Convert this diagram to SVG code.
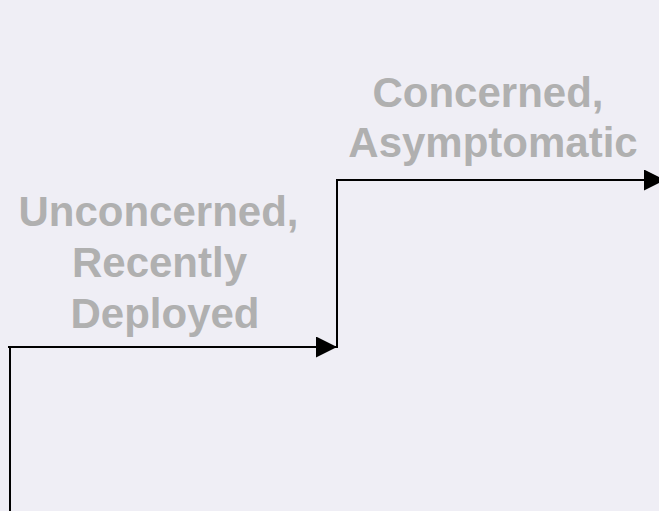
<svg xmlns="http://www.w3.org/2000/svg" width="659" height="511" viewBox="0 0 659 511">
  <style>
    .label { font-family: "Liberation Sans", Arial, sans-serif; font-weight: bold; font-size: 42px; fill: #b0b0b0; text-anchor: middle; }
    .step { fill: none; stroke: #000; stroke-width: 2; }
  </style>
  <defs>
    <marker id="arrow" markerUnits="userSpaceOnUse" markerWidth="21" markerHeight="21" refX="21" refY="10.5" orient="auto">
      <path d="M0,0 L21,10.5 L0,21 Z" fill="#000"/>
    </marker>
  </defs>
  <rect width="659" height="511" fill="#efeef5"/>

  <g id="connectors">
    <line class="step" x1="10" y1="511" x2="10" y2="346"/>
    <line class="step" x1="8" y1="347" x2="337" y2="347" marker-end="url(#arrow)"/>
    <line class="step" x1="337" y1="348" x2="337" y2="180"/>
    <line class="step" x1="336" y1="180" x2="665" y2="180" marker-end="url(#arrow)"/>
  </g>

  <g id="unconcerned">
    <text class="label" x="158.5" y="226">Unconcerned,</text>
    <text class="label" x="159.5" y="277">Recently</text>
    <text class="label" x="165" y="328">Deployed</text>
  </g>

  <g id="concerned">
    <text class="label" x="488" y="107">Concerned,</text>
    <text class="label" x="493" y="157">Asymptomatic</text>
  </g>
</svg>
